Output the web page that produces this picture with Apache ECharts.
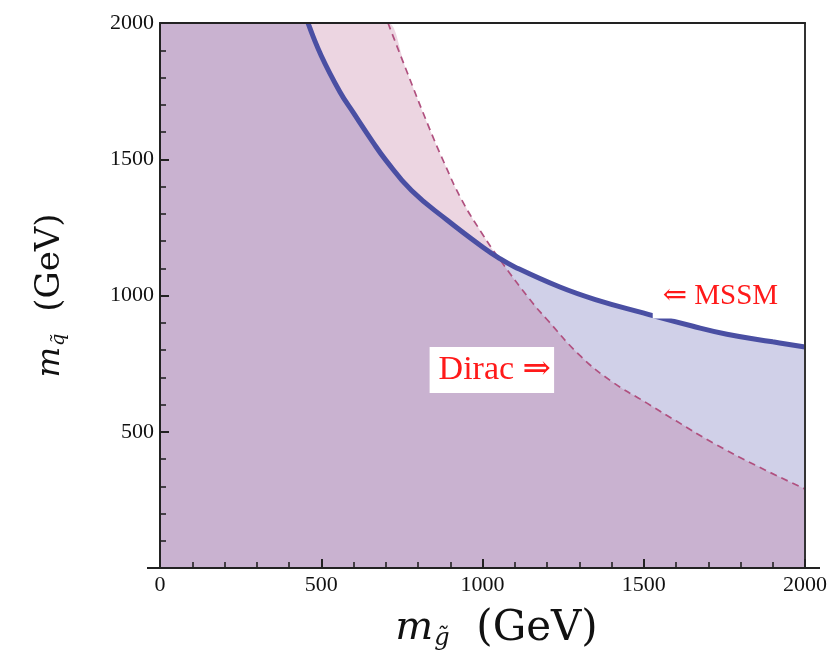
<!DOCTYPE html>
<html>
<head>
<meta charset="utf-8">
<script src="https://cdn.jsdelivr.net/npm/echarts@6/dist/echarts.min.js"></script>
<style>html,body{margin:0;padding:0;background:#fff;}#main{width:840px;height:651px;}</style>
</head>
<body>
<div id="main"></div>
<script>
// ---- data (m_gluino GeV, m_squark GeV) ----
const mssmX = [459, 500, 558, 600, 660, 700, 780, 890, 1000, 1050, 1100, 1240, 1350, 1498, 1650, 1758, 1900, 2000];
const mssmY = [2000, 1880, 1747, 1670, 1563, 1497, 1385, 1277, 1178, 1138, 1105, 1031, 985, 936, 888, 858, 830, 811];
const diracX = [707, 766, 831, 880, 935, 1000, 1050, 1147, 1200, 1302, 1400, 1510, 1600, 1715, 1850, 2000];
const diracY = [2000, 1820, 1626, 1490, 1352, 1225, 1138, 985, 912, 780, 685, 605, 540, 459, 375, 290];
const xTicks = [0, 500, 1000, 1500, 2000];
const yTicks = [500, 1000, 1500, 2000];
const labels = [
  { text: '⇐ MSSM', at: [1730, 998], size: 29, pad: [8, 5, 8, 10] },
  { text: 'Dirac ⇒', at: [1029, 727], size: 34, pad: [6, 3, 6, 9] }
];

const mssm = mssmX.map((x, i) => [x, mssmY[i]]);
const dirac = diracX.map((x, i) => [x, diracY[i]]);
// region under each curve: whole top-left corner plus the curve itself
const under = (xs, pts) => [[0, 2000], [xs[0] - 4, 2000]].concat(pts);
const blueFill = under(mssmX, mssm);
const pinkFill = under(diracX, dirac);

const serif = '"Liberation Serif", "DejaVu Serif", serif';
const tserif = '"DejaVu Serif", "Liberation Serif", serif';
const SM = 0.45;
const fillSeries = (data, color) => ({
  type: 'line', data, symbol: 'none', smooth: SM,
  lineStyle: { width: 0, opacity: 0 }, areaStyle: { color, opacity: 1 }, silent: true, z: 1
});
const rich = (k) => ({
  m: { fontFamily: tserif, fontStyle: 'italic', fontSize: 40 * k, color: '#111' },
  s: { fontFamily: tserif, fontStyle: 'italic', fontSize: 24 * k, color: '#111', padding: [20 * k, 0, 0, 1] },
  n: { fontFamily: tserif, fontSize: 42 * k, color: '#111' }
});

const option = {
  animation: false,
  backgroundColor: '#fff',
  grid: { left: 160, right: 35, top: 23, bottom: 83, containLabel: false, outerBoundsMode: 'none' },
  xAxis: [{
    type: 'value', min: 0, max: 2000, interval: 500, position: 'bottom', z: 5,
    axisLine: { show: true, onZero: false, lineStyle: { color: '#222', width: 2 } },
    axisTick: { show: true, inside: true, length: 9, lineStyle: { color: '#222', width: 2 } },
    minorTick: { show: true, splitNumber: 5, length: 6, lineStyle: { color: '#222', width: 1.6 } },
    splitLine: { show: false },
    axisLabel: { fontFamily: serif, fontSize: 22, color: '#111', margin: 6,
      formatter: v => xTicks.includes(v) ? String(v) : '' },
    name: '{m|m}{s|g̃}{n|  (GeV)}', nameLocation: 'middle', nameGap: 39,
    nameTextStyle: { rich: rich(1), padding: [0, 0, 0, 28] }
  }, {
    type: 'value', min: 0, max: 2000, position: 'top', z: 5,
    axisLine: { show: true, onZero: false, lineStyle: { color: '#222', width: 2 } },
    axisTick: { show: false }, axisLabel: { show: false }, splitLine: { show: false }
  }],
  yAxis: [{
    type: 'value', min: 0, max: 2000, interval: 500, position: 'left', z: 5,
    axisLine: { show: true, onZero: false, lineStyle: { color: '#222', width: 2 } },
    axisTick: { show: true, inside: true, length: 9, lineStyle: { color: '#222', width: 2 } },
    minorTick: { show: true, splitNumber: 5, length: 6, lineStyle: { color: '#222', width: 1.6 } },
    splitLine: { show: false },
    axisLabel: { fontFamily: serif, fontSize: 22, color: '#111', margin: 6,
      formatter: v => yTicks.includes(v) ? String(v) : '' },
    name: '{m|m}{s|q̃}{n|  (GeV)}', nameLocation: 'middle', nameGap: 92, nameRotate: 90,
    nameTextStyle: { rich: rich(0.81) }
  }, {
    type: 'value', min: 0, max: 2000, position: 'right', z: 5,
    axisLine: { show: true, onZero: false, lineStyle: { color: '#333', width: 2 } },
    axisTick: { show: false }, axisLabel: { show: false }, splitLine: { show: false }
  }],
  series: [
    fillSeries(blueFill, '#d0d0e8'),
    fillSeries(pinkFill, 'rgba(182,93,140,0.26)'),
    { type: 'line', data: dirac, symbol: 'none', smooth: SM, z: 3,
      lineStyle: { color: '#b0507f', width: 1.7, type: [7, 5] } },
    { type: 'line', data: mssm, symbol: 'none', smooth: SM, z: 4,
      lineStyle: { color: '#4a4fa3', width: 5 } },
    { type: 'scatter', symbolSize: 0, z: 10, silent: true,
      itemStyle: { opacity: 1 },
      data: labels.map(l => ({ value: l.at, name: l.text,
        label: { fontSize: l.size, padding: l.pad } })),
      label: { show: true, position: 'inside', formatter: p => p.name, opacity: 1,
        fontFamily: serif, color: '#ff1a1a', backgroundColor: '#ffffff' } }
  ]
};

const chart = echarts.init(document.getElementById('main'));
chart.setOption(option);
const a = chart.convertToPixel({ gridIndex: 0 }, [0, 0]);
const b = chart.convertToPixel({ gridIndex: 0 }, [2000, 0]);
chart.setOption({ graphic: [{ type: 'line', z: 100,
  shape: { x1: a[0] - 13, y1: a[1], x2: b[0] + 15, y2: b[1] },
  style: { stroke: '#222', lineWidth: 2 } }] });
</script>
</body>
</html>
